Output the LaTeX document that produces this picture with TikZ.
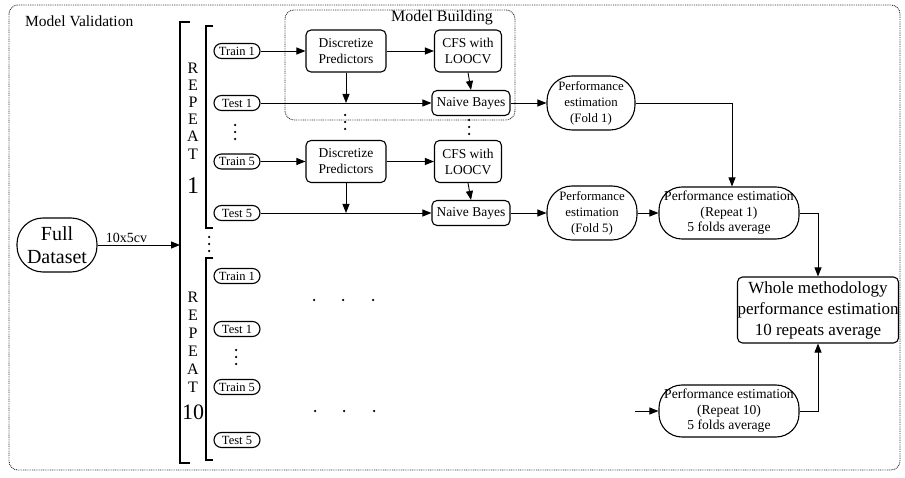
\documentclass[tikz,border=0pt]{standalone}
\usepackage{fontspec}
\setmainfont{Liberation Serif}
\usetikzlibrary{arrows.meta}
\newcommand{\fsz}[2]{\fontsize{#1}{#2}\selectfont}
\begin{document}
\begin{tikzpicture}[x=1pt,y=-1pt,
  fold/.style={draw, rounded corners=7.5pt, line width=1.1pt, minimum width=46pt, minimum height=15pt, inner sep=0pt, font=\fsz{12.5}{13}},
  proc/.style={draw, rounded corners=5pt, line width=1.1pt, align=center, inner sep=0pt},
  perf/.style={draw, line width=1.1pt, align=center, inner sep=0pt},
  arr/.style={-{Triangle[length=9pt,width=7pt]}, line width=0.9pt},
  brk/.style={line width=2.4pt},
  ibrk/.style={line width=1.7pt},
  dotbox/.style={line width=0.9pt, draw=black!80, dash pattern=on 0.9pt off 0.9pt, rounded corners=9pt},
  lett/.style={font=\fsz{16}{16}, inner sep=0pt},
  dt/.style={fill=black, circle, inner sep=0pt, minimum size=2.5pt}
]
\useasboundingbox (0,0) rectangle (905,478);
% outer boxes
\draw[dotbox] (9,5) rectangle (900,470);
\node[anchor=west, font=\fsz{15.5}{16}, inner sep=0pt] (mv) at (25,21) {Model Validation};
\draw[dotbox] (285,10) rectangle (515,120);
\node[font=\fsz{16}{16}, inner sep=0pt] (mb) at (442,18) {Model Building};

% full dataset
\node[perf, rounded corners=26pt, minimum width=80pt, minimum height=54pt, font=\fsz{20}{23}] (full) at (57,245) {Full\\Dataset};
\coordinate (bk) at (180,245);
\draw[arr] (full.east) -- node[pos=0.35, above, font=\fsz{14}{14}, inner sep=2pt] (cv) {10x5cv} (bk);

% brackets
\draw[brk] (190,22) -- (180,22) -- (180,463) -- (190,463);
\draw[ibrk] (213,26) -- (206,26) -- (206,228) -- (213,228);
\draw[ibrk] (213,258) -- (206,258) -- (206,460) -- (213,460);

% REPEAT 1 letters
\foreach \l/\yy [count=\i] in {R/68,E/85,P/102,E/119,A/136,T/154}
  \node[lett] (ra\i) at (193,\yy) {\l};
\node[font=\fsz{24}{24}, inner sep=0pt] (ra7) at (193,186) {1};
% REPEAT 10 letters
\foreach \l/\yy [count=\i] in {R/297,E/315,P/333,E/351,A/369,T/387}
  \node[lett] (rb\i) at (193,\yy) {\l};
\node[font=\fsz{22}{22}, inner sep=0pt] (rb7) at (193,412) {10};

% dots between repeats
\foreach \yy [count=\i] in {237,244,251} \node[dt] (dr\i) at (209,\yy) {};

% repeat 1 folds
\node[fold] (tr1) at (237,51) {Train 1};
\node[fold] (te1) at (237,103) {Test 1};
\node[fold] (tr5) at (237,161.5) {Train 5};
\node[fold] (te5) at (237,213) {Test 5};
\foreach \yy [count=\i] in {125,132,139} \node[dt] (da\i) at (235,\yy) {};

% repeat 10 folds
\node[fold] (ftr1) at (237,276) {Train 1};
\node[fold] (fte1) at (237,329) {Test 1};
\node[fold] (ftr5) at (237,387) {Train 5};
\node[fold] (fte5) at (237,440) {Test 5};
\foreach \yy [count=\i] in {350,357,364} \node[dt] (db\i) at (236,\yy) {};

% model building fold 1
\node[proc, minimum width=80pt, minimum height=42pt, font=\fsz{13.5}{16}] (d1) at (346,51) {Discretize\\Predictors};
\node[proc, minimum width=67pt, minimum height=42pt, font=\fsz{13.5}{16}] (c1) at (468,51) {CFS with\\LOOCV};
\node[proc, minimum width=78pt, minimum height=25pt, font=\fsz{13.5}{16}] (n1) at (471,103) {Naive Bayes};
% fold 5
\node[proc, minimum width=80pt, minimum height=42pt, font=\fsz{13.5}{16}] (d5) at (346,161.5) {Discretize\\Predictors};
\node[proc, minimum width=67pt, minimum height=42pt, font=\fsz{13.5}{16}] (c5) at (468,161.5) {CFS with\\LOOCV};
\node[proc, minimum width=78pt, minimum height=25pt, font=\fsz{13.5}{16}] (n5) at (471,213) {Naive Bayes};

\foreach \yy [count=\i] in {115,122,129} \node[dt] (dd\i) at (345,\yy) {};
\foreach \yy [count=\i] in {120,127,134} \node[dt] (dc\i) at (469,\yy) {};

% horizontal dots in repeat 10
\foreach \xx [count=\i] in {314,343,373} \node[dt] (dh\i) at (\xx,300) {};
\foreach \xx [count=\i] in {315,344,374} \node[dt] (dk\i) at (\xx,411) {};

% performance nodes
\node[perf, rounded corners=25pt, minimum width=88pt, minimum height=54pt, font=\fsz{12.8}{16}] (pf1) at (591,103) {Performance\\estimation\\(Fold 1)};
\node[perf, rounded corners=25pt, minimum width=90pt, minimum height=54pt, font=\fsz{12.8}{16}] (pf5) at (592,213) {Performance\\estimation\\(Fold 5)};
\node[perf, rounded corners=23pt, minimum width=140pt, minimum height=52pt, font=\fsz{13.6}{15.5}] (pr1) at (729,213) {Performance estimation\\(Repeat 1)\\5 folds average};
\node[perf, rounded corners=23pt, minimum width=140pt, minimum height=52pt, font=\fsz{13.6}{15.5}] (pr10) at (729,411) {Performance estimation\\(Repeat 10)\\5 folds average};
\node[proc, minimum width=160pt, minimum height=66pt, font=\fsz{17}{21}] (wh) at (818,310) {Whole methodology\\performance estimation\\10 repeats average};

% connectors fold 1
\draw[arr] (tr1.east) -- (d1.west);
\draw[arr] (d1.east) -- (c1.west);
\draw[arr] (c1.south) -- (n1.north);
\draw[arr] (te1.east) -- (n1.west);
\draw[arr] (d1.south) -- (d1.south |- te1.east);
\draw[arr] (n1.east) -- (pf1.west);
% connectors fold 5
\draw[arr] (tr5.east) -- (d5.west);
\draw[arr] (d5.east) -- (c5.west);
\draw[arr] (c5.south) -- (n5.north);
\draw[arr] (te5.east) -- (n5.west);
\draw[arr] (d5.south) -- (d5.south |- te5.east);
\draw[arr] (n5.east) -- (pf5.west);
\draw[arr] (pf5.east) -- (pr1.west);
\draw[arr] (pf1.east) -| ([xshift=3pt]pr1.north);
\draw[arr] (pr1.east) -| (wh.north);
\draw[arr] (pr10.east) -| (wh.south);
\coordinate (in10) at (635,411);
\draw[arr] (in10) -- (pr10.west);
\end{tikzpicture}
\end{document}
